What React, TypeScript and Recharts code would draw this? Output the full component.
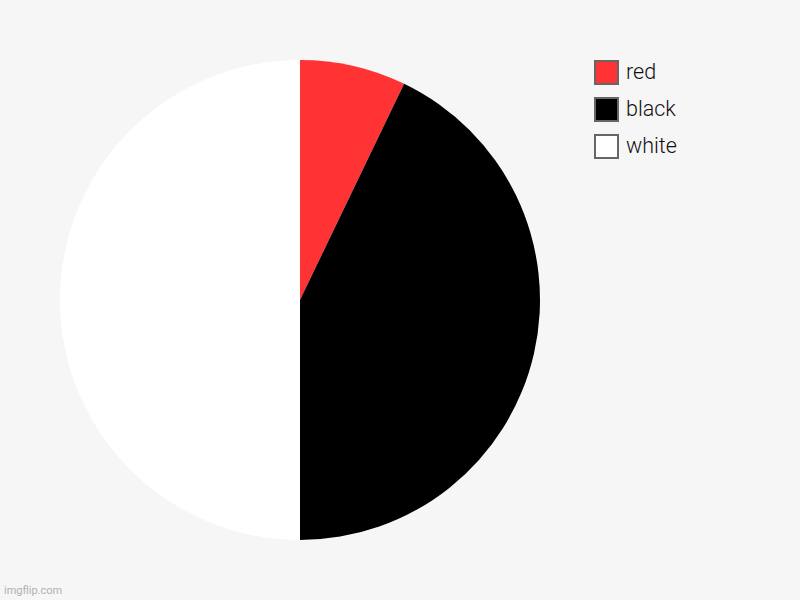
import React from "react";
import { PieChart, Pie, Cell, Legend } from "recharts";

const categories = ["red", "black", "white"];
const values = [1, 6, 7];
const colors = ["#ff3333", "#000000", "#ffffff"];

const data = categories.map((name, i) => ({ name, value: values[i] }));

const renderLegend = (props: any) => {
  const payload = [...(props.payload || [])].sort(
    (a: any, b: any) => categories.indexOf(a.value) - categories.indexOf(b.value)
  );
  return (
    <div style={{ display: "flex", flexDirection: "column" }}>
      {payload.map((entry: any, i: number) => (
        <div
          key={i}
          style={{ display: "flex", alignItems: "center", height: 24, marginBottom: 13 }}
        >
          <div
            style={{
              width: 25,
              height: 25,
              boxSizing: "border-box",
              border: "2px solid #666",
              background: entry.color,
            }}
          />
          <span
            style={{
              marginLeft: 7,
              fontFamily: "Roboto, sans-serif",
              fontWeight: 300,
              fontSize: 21.5,
              color: "#111",
              lineHeight: "24px",
            }}
          >
            {entry.value}
          </span>
        </div>
      ))}
    </div>
  );
};

export default function App() {
  return (
    <div
      style={{
        position: "fixed",
        left: 0,
        top: 0,
        width: 800,
        height: 600,
        background: "#f6f6f6",
      }}
    >
      <PieChart width={800} height={600} margin={{ top: 0, right: 0, bottom: 0, left: 0 }}>
        <Pie
          data={data}
          dataKey="value"
          nameKey="name"
          cx={300}
          cy={300}
          outerRadius={240}
          startAngle={90}
          endAngle={-270}
          stroke="none"
          isAnimationActive={false}
          legendType="square"
        >
          {data.map((d, i) => (
            <Cell key={d.name} fill={colors[i]} />
          ))}
        </Pie>
        <Legend
          content={renderLegend}
          wrapperStyle={{ position: "absolute", left: 594, top: 60, width: 150 }}
        />
      </PieChart>
      <div
        style={{
          position: "absolute",
          left: 4,
          top: 584,
          fontFamily: "Roboto, sans-serif",
          fontSize: 11,
          color: "#b0b0b0",
        }}
      >
        imgflip.com
      </div>
    </div>
  );
}
